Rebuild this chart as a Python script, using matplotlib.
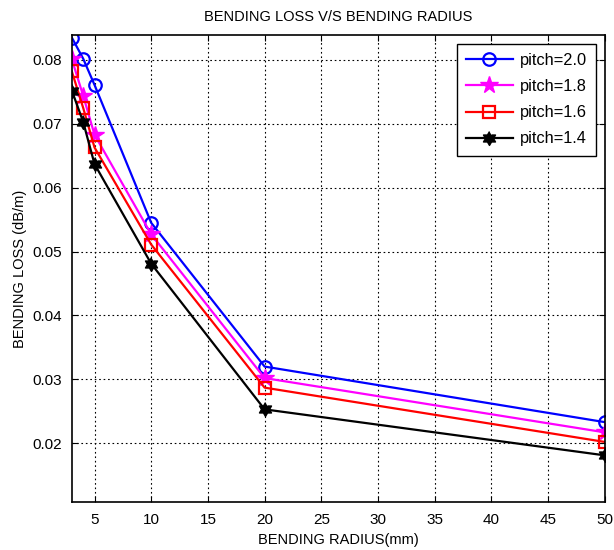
import numpy as np
import matplotlib; matplotlib.use('Agg')
import matplotlib.pyplot as plt

plt.rcParams['font.family'] = ['Liberation Sans', 'DejaVu Sans']

radius = [3, 4, 5, 10, 20, 50]
loss_20 = [0.0835, 0.0802, 0.0761, 0.0545, 0.0320, 0.0233]
loss_18 = [0.0801, 0.0744, 0.0683, 0.0527, 0.0302, 0.0217]
loss_16 = [0.0782, 0.0725, 0.0663, 0.0511, 0.0287, 0.0202]
loss_14 = [0.0752, 0.0703, 0.0637, 0.0481, 0.0253, 0.0181]
labels = ['pitch=2.0', 'pitch=1.8', 'pitch=1.6', 'pitch=1.4']
xticks = [5, 10, 15, 20, 25, 30, 35, 40, 45, 50]
yticks = [0.02, 0.03, 0.04, 0.05, 0.06, 0.07, 0.08]

# six-pointed star (matlab hexagram)
hexagram = [(np.cos(np.pi/2 + k*np.pi/6) * (1.0 if k % 2 == 0 else 0.58),
             np.sin(np.pi/2 + k*np.pi/6) * (1.0 if k % 2 == 0 else 0.58)) for k in range(12)]

fig = plt.figure(figsize=(6.14, 5.5), dpi=100)
ax = fig.add_axes([0.117, 0.0873, 0.868, 0.849])

ax.plot(radius, loss_20, color='#0000ff', lw=1.6, marker='o', ms=9, mfc='none', mew=1.6, label=labels[0])
ax.plot(radius, loss_18, color='#ff00ff', lw=1.6, marker='*', ms=13, mfc='#ff00ff', mew=1.0, label=labels[1])
ax.plot(radius, loss_16, color='#ff0000', lw=1.6, marker='s', ms=9, mfc='none', mew=1.6, label=labels[2])
ax.plot(radius, loss_14, color='black', lw=1.6, marker=hexagram, ms=10, mfc='black', mew=1.0, label=labels[3])

ax.set_xlim(3, 50)
ax.set_ylim(0.0108, 0.0839)
ax.set_xticks(xticks)
ax.set_yticks(yticks)
ax.set_yticklabels([f'{v:g}' for v in yticks])
ax.grid(True, color='black', ls=(0, (1.5, 2.5)), lw=0.8)
ax.tick_params(direction='in', top=True, right=True, labelsize=11, length=4)
ax.tick_params(axis='x', pad=8)
ax.tick_params(axis='y', pad=7)
for s in ax.spines.values():
    s.set_linewidth(1.2)

ax.set_title('BENDING LOSS V/S BENDING RADIUS', fontsize=10.5, pad=10)
ax.set_xlabel('BENDING RADIUS(mm)', fontsize=10.5, labelpad=4)
ax.set_ylabel('BENDING LOSS (dB/m)', fontsize=10.5, labelpad=4)

leg = ax.legend(loc='upper right', fontsize=11.8, fancybox=False, framealpha=1,
                edgecolor='black', handlelength=2.9, handletextpad=0.4,
                borderaxespad=0.55, labelspacing=0.68, borderpad=0.55)
leg.get_frame().set_linewidth(1.0)

plt.savefig('out.png', dpi=100, facecolor='white')
